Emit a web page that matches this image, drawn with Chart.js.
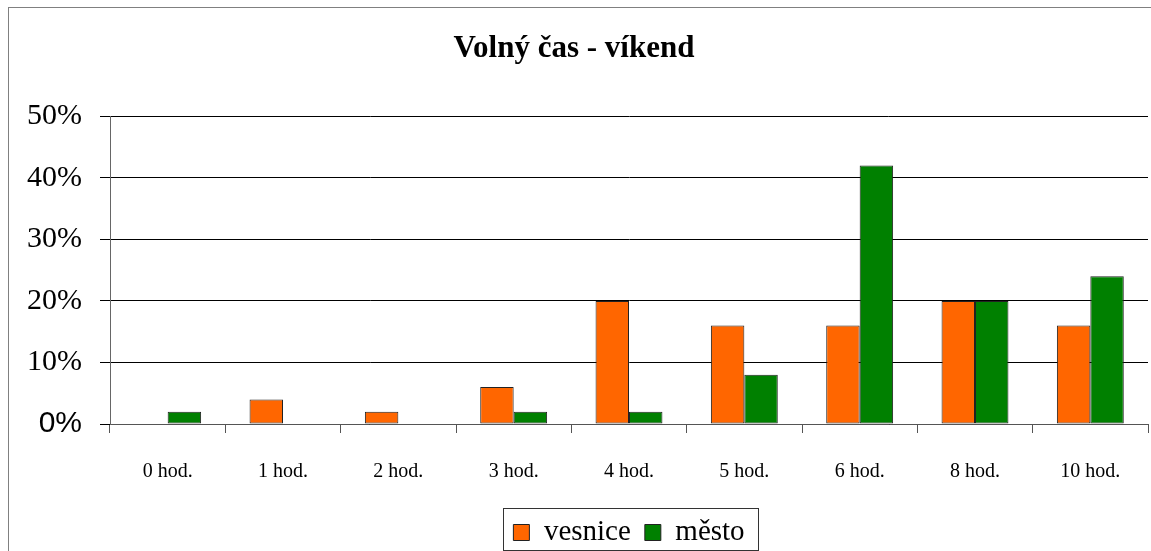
<!DOCTYPE html>
<html>
<head>
<meta charset="utf-8">
<script src="https://cdn.jsdelivr.net/npm/chart.js@4"></script>
<style>
    body { margin: 0; background: #fff; }
    #wrap { position: relative; width: 1151px; height: 551px; overflow: hidden; }
    #frame { position: absolute; left: 8px; top: 7px; width: 1200px; height: 600px; border: 1px solid #808080; }
    canvas { position: absolute; left: 0; top: 0; }
</style>
</head>
<body>
<div id="wrap">
    <div id="frame"></div>
    <canvas id="myChart" width="1151" height="551"></canvas>
</div>
<script>
var labels = ["0 hod.", "1 hod.", "2 hod.", "3 hod.", "4 hod.", "5 hod.", "6 hod.", "8 hod.", "10 hod."];
var vesnice = [0, 4, 2, 6, 20, 16, 16, 20, 16];
var mesto = [2, 0, 0, 2, 2, 8, 42, 20, 24];
var yTicks = [0, 10, 20, 30, 40, 50];

// frame round the legend, like the old office chart
var legendFrame = {
    id: 'legendFrame',
    afterDraw: function (chart) {
        var boxes = chart.legend.legendHitBoxes;
        if (!boxes || !boxes.length) return;
        var left = boxes[0].left - 10;
        var last = boxes[boxes.length - 1];
        var right = last.left + last.width + 14;
        var top = boxes[0].top - 10;
        var ctx = chart.ctx;
        ctx.save();
        ctx.strokeStyle = '#333';
        ctx.lineWidth = 1;
        ctx.strokeRect(Math.round(left) + 0.5, Math.round(top) + 0.5, Math.round(right - left), 551 - Math.round(top) - 1);
        ctx.restore();
    }
};

new Chart("myChart", {
    type: 'bar',
    data: {
        labels: labels,
        datasets: [{
            label: 'vesnice',
            data: vesnice,
            backgroundColor: '#FF6600',
            borderColor: '#222',
            borderWidth: 1,
            borderSkipped: false
        }, {
            label: 'město',
            data: mesto,
            backgroundColor: '#008000',
            borderColor: '#222',
            borderWidth: 1,
            borderSkipped: false
        }]
    },
    options: {
        responsive: false,
        animation: false,
        categoryPercentage: 0.58,
        barPercentage: 1.0,
        layout: { padding: { left: 0, right: 3, top: 0, bottom: -6 } },
        plugins: {
            title: {
                display: true,
                text: 'Volný čas - víkend',
                color: '#000',
                font: { family: 'Liberation Serif', size: 31, weight: 'bold' },
                padding: { top: 30, bottom: 49 }
            },
            legend: {
                position: 'bottom',
                fullSize: false,
                labels: {
                    color: '#000',
                    font: { family: 'Liberation Serif', size: 29 },
                    boxWidth: 16,
                    boxHeight: 16,
                    padding: 14
                }
            },
            tooltip: { enabled: false }
        },
        scales: {
            x: {
                grid: {
                    drawOnChartArea: false,
                    tickLength: 9,
                    color: '#555',
                    offset: true
                },
                border: { color: '#555' },
                ticks: {
                    color: '#000',
                    font: { family: 'Liberation Serif', size: 20 },
                    padding: 27,
                    maxRotation: 0
                },
                afterFit: function (scale) { scale.height = 80; }
            },
            y: {
                min: 0,
                max: 50,
                afterBuildTicks: function (scale) {
                    scale.ticks = yTicks.map(function (v) { return { value: v }; });
                },
                grid: { color: '#000', tickLength: 10 },
                border: { color: '#666' },
                ticks: {
                    color: '#000',
                    padding: 18,
                    font: function (ctx) {
                        if (ctx.tick && ctx.tick.value === 0) {
                            return { family: 'Liberation Sans', size: 30 };
                        }
                        return { family: 'Liberation Serif', size: 30 };
                    },
                    callback: function (v) { return v + '%'; }
                },
                afterFit: function (scale) { scale.width = 110; }
            }
        }
    },
    plugins: [legendFrame]
});
</script>
</body>
</html>
